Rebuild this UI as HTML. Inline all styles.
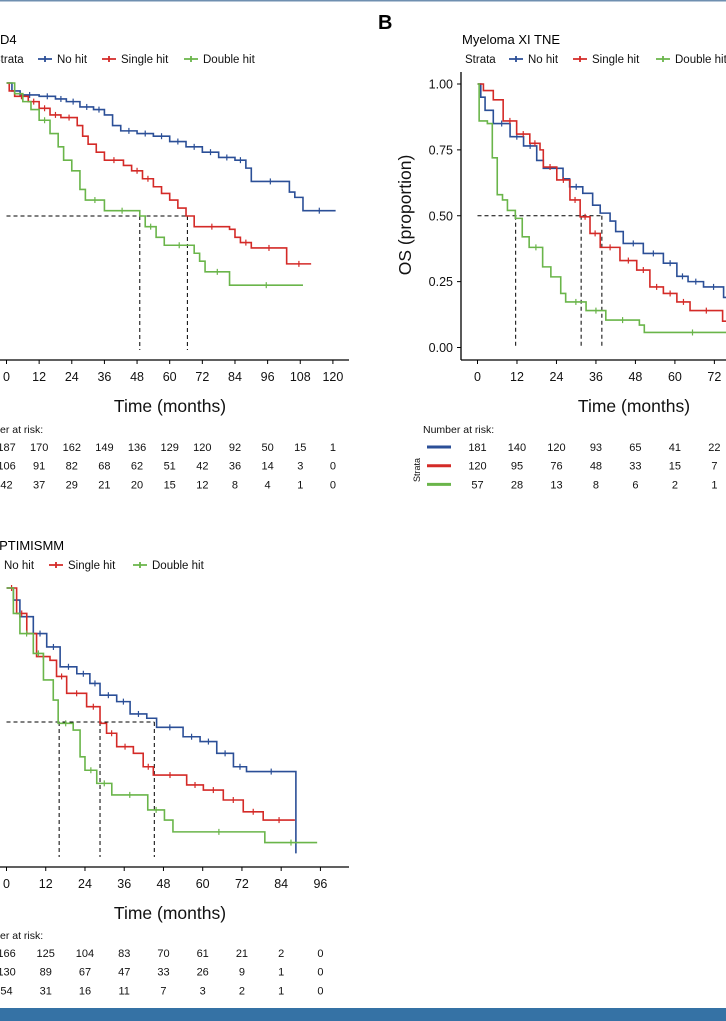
<!DOCTYPE html>
<html><head><meta charset="utf-8"><style>
html,body{margin:0;padding:0;background:#fff;}
svg{display:block;font-family:"Liberation Sans",Arial,sans-serif;}
</style></head><body>
<svg id="fig" width="726" height="1021" viewBox="0 0 726 1021" xmlns="http://www.w3.org/2000/svg">
<rect x="0" y="0" width="726" height="1021" fill="#fff"/>
<rect x="0" y="0" width="726" height="1.5" fill="#6f8fb0"/>
<rect x="0" y="1008" width="726" height="13" fill="#3572a5"/>
<text x="378" y="29" font-size="20" font-weight="bold">B</text>
<text x="0" y="44" font-size="13">D4</text>
<text x="462" y="44" font-size="13">Myeloma XI TNE</text>
<text x="-11" y="550" font-size="13">OPTIMISMM</text>
<g id="layer"></g>
</svg>
<script>
// ---- data ----
const colors = ["#2b4f97","#d42a27","#6ab54a"];
const seriesNames = ["No hit","Single hit","Double hit"];
// Panel A
const aTicks = [0,12,24,36,48,60,72,84,96,108,120];
const aNoHit = [[0,1],[2,0.97],[5,0.955],[12,0.95],[18,0.94],[22,0.93],[27,0.91],[32,0.9],[36,0.88],[39,0.84],[42,0.82],[48,0.81],[54,0.8],[60,0.78],[66,0.76],[72,0.74],[78,0.72],[84,0.71],[88,0.68],[90,0.63],[104,0.59],[106,0.57],[109,0.52],[121,0.52]];
const aSingle = [[0,1],[1,0.97],[3,0.95],[8,0.93],[12,0.905],[16,0.88],[20,0.87],[26,0.84],[28,0.8],[30,0.77],[33,0.74],[36,0.71],[43,0.69],[46,0.67],[50,0.64],[54,0.61],[57,0.585],[60,0.56],[63,0.53],[66,0.5],[69,0.46],[82,0.45],[84,0.42],[86,0.4],[90,0.38],[103,0.32],[112,0.32]];
const aDouble = [[0,1],[3,0.96],[6,0.93],[9,0.9],[12,0.86],[16,0.81],[19,0.76],[21,0.71],[24,0.67],[27,0.6],[29,0.56],[36,0.52],[49,0.5],[51,0.46],[55,0.42],[58,0.39],[69,0.36],[71,0.33],[73,0.29],[82,0.24],[109,0.24]];
const aMedians = [49,66.5];
const aRiskNoHit = [187,170,162,149,136,129,120,92,50,15,1];
const aRiskSingle = [106,91,82,68,62,51,42,36,14,3,0];
const aRiskDouble = [42,37,29,21,20,15,12,8,4,1,0];
// Panel B
const bTicks = [0,12,24,36,48,60,72,84];
const bYTicks = [0,0.25,0.5,0.75,1];
const bYLabels = ["0.00","0.25","0.50","0.75","1.00"];
const bNoHit = [[0,1],[1,0.95],[2.3,0.9],[4.8,0.85],[9.9,0.8],[14,0.765],[18,0.71],[20,0.68],[23,0.68],[26,0.64],[28,0.61],[32,0.585],[35,0.54],[37.3,0.51],[40.3,0.48],[42,0.44],[44.3,0.395],[50.4,0.357],[56.5,0.32],[60.6,0.27],[64,0.25],[68.7,0.23],[74.8,0.19],[80,0.17]];
const bSingle = [[0,1],[1.8,0.975],[4.8,0.94],[7.8,0.86],[11.9,0.81],[15.9,0.775],[19,0.75],[20,0.685],[24.1,0.636],[28.1,0.56],[31.2,0.496],[34.2,0.433],[37.3,0.38],[43.3,0.33],[48.4,0.294],[52.4,0.23],[56.5,0.205],[60.6,0.173],[64.6,0.14],[74.5,0.1],[80,0.1]];
const bDouble = [[0,1],[0.5,0.86],[3,0.85],[4.5,0.72],[6,0.58],[7.6,0.56],[9.1,0.52],[11.5,0.49],[13.6,0.42],[15.7,0.38],[19.8,0.306],[22.3,0.268],[25.3,0.205],[26.8,0.173],[33,0.14],[39,0.104],[49.2,0.085],[50.7,0.057],[80,0.057]];
const bMedians = [11.6,31.5,37.8];
const bRiskNoHit = [181,140,120,93,65,41,22];
const bRiskSingle = [120,95,76,48,33,15,7];
const bRiskDouble = [57,28,13,8,6,2,1];
// Panel C
const cTicks = [0,12,24,36,48,60,72,84,96];
const cNoHit = [[0,1],[2.1,0.955],[4.1,0.893],[8.2,0.83],[12.3,0.78],[16.4,0.706],[21.5,0.68],[25.5,0.644],[28.6,0.6],[33.7,0.576],[37.8,0.53],[42.9,0.514],[45.9,0.48],[54,0.445],[59.2,0.427],[64.3,0.383],[69.4,0.333],[73.4,0.315],[88.5,0.315],[88.5,0.01]];
const cSingle = [[0,1],[3.1,0.905],[6.2,0.83],[9.2,0.744],[13.3,0.73],[15.3,0.67],[18.4,0.607],[24.5,0.557],[28.6,0.495],[30.6,0.458],[33.7,0.408],[38.8,0.383],[41.8,0.333],[44.9,0.302],[55.1,0.265],[60.2,0.246],[66.3,0.209],[72.4,0.165],[78.5,0.134],[88.2,0.134]];
const cDouble = [[0,1],[2.1,0.905],[4.1,0.83],[8.2,0.756],[11.3,0.657],[14.3,0.582],[15.8,0.495],[20.4,0.47],[22.5,0.37],[24,0.32],[27.6,0.271],[32.2,0.228],[43.2,0.172],[48.3,0.134],[50.9,0.09],[79,0.05],[95,0.05]];
const cMedians = [16.1,28.6,45.2];
const cRiskNoHit = [166,125,104,83,70,61,21,2,0];
const cRiskSingle = [130,89,67,47,33,26,9,1,0];
const cRiskDouble = [54,31,16,11,7,3,2,1,0];

// ---- drawing ----
const NS="http://www.w3.org/2000/svg";
const layer=document.getElementById('layer');
function mk(tag,attrs,parent){const e=document.createElementNS(NS,tag);for(const k in attrs)e.setAttribute(k,attrs[k]);(parent||layer).appendChild(e);return e;}
function txt(s,attrs,parent){const e=mk('text',attrs,parent);e.textContent=s;return e;}

function panel(cfg){
  const g=mk('g',{});
  
  
  const xs=t=>cfg.x0+t*cfg.px;
  const ys=s=>cfg.y0-s*cfg.py;
  const ax=mk('line',{x1:cfg.axL,x2:cfg.axR,y1:cfg.axY,y2:cfg.axY,stroke:'#000','stroke-width':1.3},g);
  
  
  cfg.ticks.forEach(t=>{
    const tk=mk('line',{x1:xs(t),x2:xs(t),y1:cfg.axY,y2:cfg.axY+4,stroke:'#000','stroke-width':1},g);
    
    
    const l=txt(String(t),{x:xs(t),y:cfg.axY+21,'font-size':12.5,'text-anchor':'middle',fill:'#111'},g);
    
    
  });
  const xt=txt('Time (months)',{x:cfg.titleX,y:cfg.axY+52,'font-size':17.5,'text-anchor':'middle',fill:'#111'},g);
  
  
  if(cfg.yTicks){
    const ya=mk('line',{x1:cfg.yAxX,x2:cfg.yAxX,y1:72,y2:cfg.axY,stroke:'#000','stroke-width':1.3},g);
    
    
    cfg.yTicks.forEach((v,i)=>{
      const tk=mk('line',{x1:cfg.yAxX-4,x2:cfg.yAxX,y1:ys(v),y2:ys(v),stroke:'#000','stroke-width':1},g);
      
      
      const l=txt(cfg.yLabels[i],{x:cfg.yAxX-8,y:ys(v)+4.5,'font-size':12.5,'text-anchor':'end',fill:'#111'},g);
      
      
    });
    const yt=txt('OS (proportion)',{x:0,y:0,'font-size':17.5,'text-anchor':'middle',transform:'translate('+(cfg.yAxX-50)+',215) rotate(-90)',fill:'#111'},g);
    
    
  }
  const mx=Math.max(...cfg.medians);
  const hl=mk('line',{x1:xs(0),x2:xs(mx),y1:ys(0.5),y2:ys(0.5),stroke:'#000','stroke-width':1,'stroke-dasharray':'4,3'},g);
  
  
  cfg.medians.forEach(m=>{
    const vl=mk('line',{x1:xs(m),x2:xs(m),y1:ys(0.5),y2:ys(0)+1,stroke:'#000','stroke-width':1,'stroke-dasharray':'4,3'},g);
    
    
  });
  cfg.series.forEach((sd,i)=>{
    let d='M'+xs(sd[0][0])+','+ys(sd[0][1]);
    for(let k=1;k<sd.length;k++){d+=' H'+xs(sd[k][0])+' V'+ys(sd[k][1]);}
    const p=mk('path',{d:d,fill:'none',stroke:colors[i],'stroke-width':1.6},g);
    
    
    for(let k=1;k<sd.length;k++){
      if(sd[k][0]-sd[k-1][0]>3){
        const cx=(xs(sd[k-1][0])+xs(sd[k][0]))/2, cy=ys(sd[k-1][1]);
        const c=mk('path',{d:'M'+cx+','+(cy-3)+' V'+(cy+3),stroke:colors[i],'stroke-width':1.2},g);
        
        
      }
    }
  });
  if(cfg.legStrata!==null){
    const s=txt('Strata',{x:cfg.legStrata,y:cfg.legY+4,'font-size':11.5,fill:'#111'},g);
    
    
  }
  cfg.legX.forEach((lx,i)=>{
    const m=mk('path',{d:'M'+lx+','+cfg.legY+' h14 M'+(lx+7)+','+(cfg.legY-3)+' v6',stroke:colors[i],'stroke-width':1.8},g);
    
    
    const l=txt(seriesNames[i],{x:lx+19,y:cfg.legY+4,'font-size':11.5,fill:'#111'},g);
    
    
  });
  const rh=txt('Number at risk:',{x:cfg.riskHeadX,y:cfg.riskY,'font-size':10.5,fill:'#111'},g);
  
  
  cfg.risk.forEach((row,i)=>{
    const ry=cfg.riskY+18+i*18.7;
    if(cfg.riskDash){
      const dl=mk('line',{x1:cfg.riskDash,x2:cfg.riskDash+24,y1:ry-4,y2:ry-4,stroke:colors[i],'stroke-width':3},g);
      
      
    }
    row.forEach((v,j)=>{
      const t=txt(String(v),{x:xs(cfg.ticks[j]),y:ry,'font-size':11,'text-anchor':'middle',fill:'#111'},g);
      
      
    });
  });
  if(cfg.riskDash){
    const st=txt('Strata',{x:0,y:0,'font-size':9,'text-anchor':'middle',transform:'translate('+(cfg.riskDash-7)+','+(cfg.riskY+37)+') rotate(-90)',fill:'#111'},g);
    
    
  }
}

panel({name:'panel-a',x0:6.5,px:2.72,y0:349,py:266,axY:360,axL:-5,axR:349,ticks:aTicks,titleX:170,
  medians:aMedians,series:[aNoHit,aSingle,aDouble],legStrata:-7,legY:59,legX:[38,102,184],
  riskHeadX:-28,riskY:433,risk:[aRiskNoHit,aRiskSingle,aRiskDouble]});
panel({name:'panel-b',x0:477.5,px:3.29,y0:347.5,py:263.5,axY:360,axL:461,axR:760,ticks:bTicks,titleX:634,
  yTicks:bYTicks,yLabels:bYLabels,yAxX:461,
  medians:bMedians,series:[bNoHit,bSingle,bDouble],legStrata:465,legY:59,legX:[509,573,656],
  riskHeadX:423,riskY:433,riskDash:427,risk:[bRiskNoHit,bRiskSingle,bRiskDouble]});
panel({name:'panel-c',x0:6.5,px:3.27,y0:856,py:268,axY:867,axL:-5,axR:349,ticks:cTicks,titleX:170,
  medians:cMedians,series:[cNoHit,cSingle,cDouble],legStrata:null,legY:565,legX:[-15,49,133],
  riskHeadX:-28,riskY:939,risk:[cRiskNoHit,cRiskSingle,cRiskDouble]});
</script>
</body></html>
